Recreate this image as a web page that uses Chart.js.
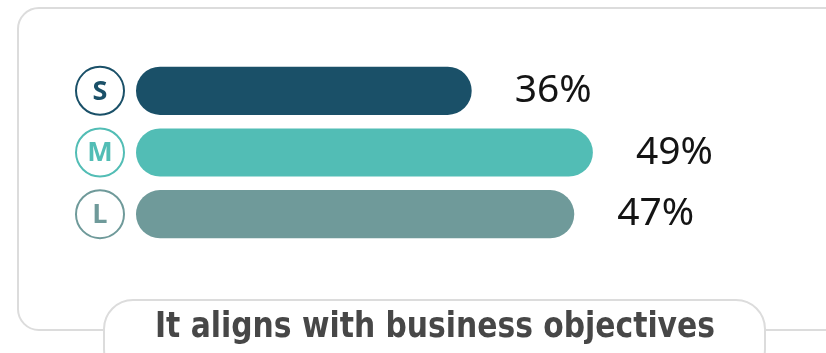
<!DOCTYPE html>
<html>
<head>
<meta charset="utf-8">
<script src="https://cdn.jsdelivr.net/npm/chart.js@4/dist/chart.umd.min.js"></script>
<style>
  html, body { margin: 0; padding: 0; background: #fff; }
  #wrap { position: relative; width: 826px; height: 353px; overflow: hidden; }
  #box {
    position: absolute; left: 17px; top: 7px; width: 880px; height: 324px;
    border: 2px solid #dcdcdc; border-radius: 22px; box-sizing: border-box;
  }
  #chart { position: absolute; left: 0; top: 0; }
  #pill {
    position: absolute; left: 103px; top: 299px; width: 663px; height: 80px;
    background: #fff; border: 2px solid #dcdcdc; border-radius: 30px; box-sizing: border-box;
  }
  #title {
    position: absolute; left: 155px; top: 303px; white-space: nowrap;
    font-family: "DejaVu Sans", sans-serif; font-weight: bold;
    font-size: 35px; line-height: 44px; color: #474747; transform-origin: 0 0;
  }
</style>
</head>
<body>
<div id="wrap">
  <div id="box"></div>
  <canvas id="chart" width="826" height="353"></canvas>
  <div id="pill"></div>
  <div id="title">It aligns with business objectives</div>
</div>
<script>
// Company size groups and their share of responses
const categories = ['S', 'M', 'L'];
const values = [36, 49, 47];
const valueLabels = ['36%', '49%', '47%'];
const barColors = ['#1a5068', '#52bdb5', '#6f9a9a'];

// Narrow the caption so it sits inside its pill
(function () {
  const title = document.getElementById('title');
  const w = title.getBoundingClientRect().width;
  title.style.transform = 'scaleX(' + (560 / w) + ')';
})();

// Circle badges with the group letter, and value labels after each bar
const decorations = {
  id: 'decorations',
  afterDatasetsDraw(chart) {
    const ctx = chart.ctx;
    const meta = chart.getDatasetMeta(0);
    const yScale = chart.scales.y;
    ctx.save();
    meta.data.forEach((bar, i) => {
      const cy = yScale.getPixelForValue(i);
      const color = barColors[i];
      // badge
      ctx.beginPath();
      ctx.arc(100, cy, 24, 0, Math.PI * 2);
      ctx.lineWidth = 2;
      ctx.strokeStyle = color;
      ctx.stroke();
      ctx.fillStyle = color;
      ctx.font = 'bold 27px "Open Sans", sans-serif';
      ctx.textAlign = 'center';
      ctx.textBaseline = 'middle';
      ctx.fillText(categories[i], 100, cy + 1);
      // value label
      ctx.fillStyle = '#141414';
      ctx.font = '39px "Noto Sans", sans-serif';
      ctx.textAlign = 'left';
      ctx.fillText(valueLabels[i], bar.x + 43, cy);
    });
    ctx.restore();
  }
};

new Chart(document.getElementById('chart'), {
  type: 'bar',
  data: {
    labels: categories,
    datasets: [{
      data: values,
      backgroundColor: barColors,
      borderRadius: 24,
      borderSkipped: false,
      barPercentage: 0.78,
      categoryPercentage: 1.0
    }]
  },
  options: {
    indexAxis: 'y',
    responsive: false,
    animation: false,
    layout: { padding: { left: 136, top: 60, right: 0, bottom: 108 } },
    scales: {
      x: { display: false, min: 0, max: 74 },
      y: { display: false }
    },
    plugins: { legend: { display: false }, tooltip: { enabled: false } }
  },
  plugins: [decorations]
});
</script>
</body>
</html>
